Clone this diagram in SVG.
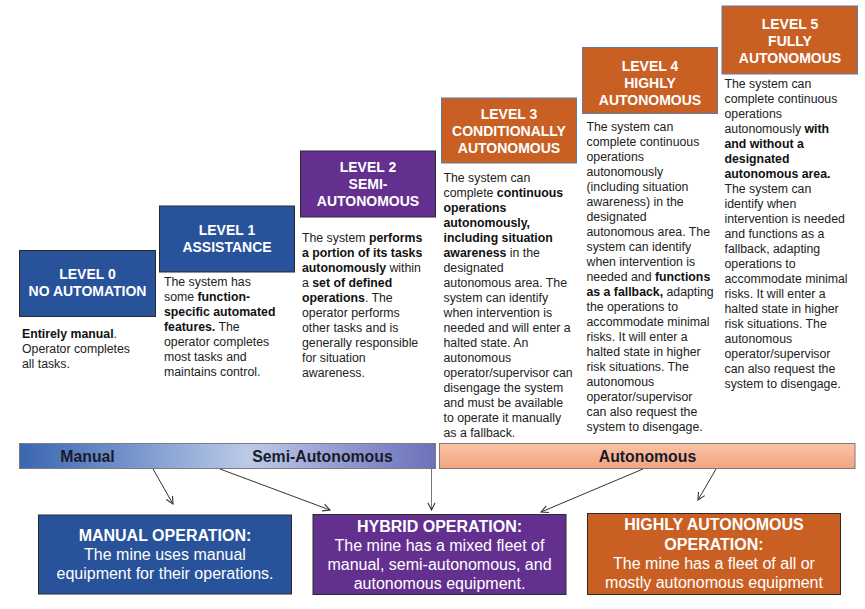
<svg xmlns="http://www.w3.org/2000/svg" width="865" height="609" viewBox="0 0 865 609">
<style>
.hd{fill:#fff;font-family:"Liberation Sans",Arial,sans-serif;font-weight:bold;font-size:14px;text-anchor:middle}
.bd{fill:#222;font-family:"Liberation Sans",Arial,sans-serif;font-size:12.3px}
.bd .b{font-weight:bold;fill:#111}
.blue{fill:#28529A;stroke:#2a2a2a;stroke-width:1}
.purple{fill:#64308F;stroke:#2a2a2a;stroke-width:1}
.orange{fill:#C95F23;stroke:#5B7BA8;stroke-width:1}
.orangeb{fill:#C95F23;stroke:#2a2a2a;stroke-width:1}
.bar{font-family:"Liberation Sans",Arial,sans-serif;font-weight:bold;font-size:15.8px;fill:#1a1a2a;text-anchor:middle}
.bt{fill:#fff;font-family:"Liberation Sans",Arial,sans-serif;font-size:16px;text-anchor:middle}
.bt .b{font-weight:bold}
.conn line{stroke:#333;stroke-width:1;marker-end:url(#ah)}
</style>
<defs>
<linearGradient id="gl" x1="0" y1="0" x2="1" y2="0">
<stop offset="0" stop-color="#3A66B0"/>
<stop offset="0.3" stop-color="#7E9ACF"/>
<stop offset="0.55" stop-color="#BCCBE8"/>
<stop offset="0.8" stop-color="#8D96CE"/>
<stop offset="1" stop-color="#6B72B8"/>
</linearGradient>
<linearGradient id="gr" x1="0" y1="0" x2="0" y2="1">
<stop offset="0" stop-color="#F9C3A6"/>
<stop offset="1" stop-color="#F2A47F"/>
</linearGradient>
<marker id="ah" viewBox="0 0 10 10" refX="9" refY="5" markerWidth="9" markerHeight="9" markerUnits="userSpaceOnUse" orient="auto">
<path d="M1,1 L9,5 L1,9" fill="none" stroke="#333" stroke-width="1.2"/>
</marker>
</defs>
<rect width="865" height="609" fill="#fff"/>

<g id="level0">
<rect class="blue" x="19.5" y="250.5" width="136" height="66"/>
<text class="hd" x="87.5" y="279">LEVEL 0</text>
<text class="hd" x="87.5" y="296">NO AUTOMATION</text>
<text class="bd" x="22"><tspan x="22" y="338"><tspan class="b">Entirely manual</tspan>.</tspan><tspan x="22" y="352.8">Operator completes</tspan><tspan x="22" y="367.6">all tasks.</tspan></text>
</g>

<g id="level1">
<rect class="blue" x="159.5" y="206" width="135" height="66"/>
<text class="hd" x="227" y="235">LEVEL 1</text>
<text class="hd" x="227" y="252">ASSISTANCE</text>
<text class="bd"><tspan x="164" y="286">The system has</tspan><tspan x="164" y="301">some <tspan class="b">function-</tspan></tspan><tspan x="164" y="316" class="b">specific automated</tspan><tspan x="164" y="331"><tspan class="b">features.</tspan> The</tspan><tspan x="164" y="346">operator completes</tspan><tspan x="164" y="361">most tasks and</tspan><tspan x="164" y="376">maintains control.</tspan></text>
</g>

<g id="level2">
<rect class="purple" x="300.5" y="151" width="135" height="66"/>
<text class="hd" x="368" y="172">LEVEL 2</text>
<text class="hd" x="368" y="189">SEMI-</text>
<text class="hd" x="368" y="205.5">AUTONOMOUS</text>
<text class="bd"><tspan x="302" y="241.7">The system <tspan class="b">performs</tspan></tspan><tspan x="302" y="256.7" class="b">a portion of its tasks</tspan><tspan x="302" y="271.7"><tspan class="b">autonomously</tspan> within</tspan><tspan x="302" y="286.7">a <tspan class="b">set of defined</tspan></tspan><tspan x="302" y="301.7"><tspan class="b">operations</tspan>. The</tspan><tspan x="302" y="316.7">operator performs</tspan><tspan x="302" y="331.7">other tasks and is</tspan><tspan x="302" y="346.7">generally responsible</tspan><tspan x="302" y="361.7">for situation</tspan><tspan x="302" y="376.7">awareness.</tspan></text>
</g>

<g id="level3">
<rect class="orange" x="441.5" y="98" width="135" height="65"/>
<text class="hd" x="509" y="119">LEVEL 3</text>
<text class="hd" x="509" y="136">CONDITIONALLY</text>
<text class="hd" x="509" y="152.5">AUTONOMOUS</text>
<text class="bd"><tspan x="443.5" y="182.3">The system can</tspan><tspan x="443.5" y="197.3">complete <tspan class="b">continuous</tspan></tspan><tspan x="443.5" y="212.3" class="b">operations</tspan><tspan x="443.5" y="227.3" class="b">autonomously,</tspan><tspan x="443.5" y="242.3" class="b">including situation</tspan><tspan x="443.5" y="257.3"><tspan class="b">awareness</tspan> in the</tspan><tspan x="443.5" y="272.3">designated</tspan><tspan x="443.5" y="287.3">autonomous area. The</tspan><tspan x="443.5" y="302.3">system can identify</tspan><tspan x="443.5" y="317.3">when intervention is</tspan><tspan x="443.5" y="332.3">needed and will enter a</tspan><tspan x="443.5" y="347.3">halted state. An</tspan><tspan x="443.5" y="362.3">autonomous</tspan><tspan x="443.5" y="377.3">operator/supervisor can</tspan><tspan x="443.5" y="392.3">disengage the system</tspan><tspan x="443.5" y="407.3">and must be available</tspan><tspan x="443.5" y="422.3">to operate it manually</tspan><tspan x="443.5" y="437.3">as a fallback.</tspan></text>
</g>

<g id="level4">
<rect class="orange" x="582.5" y="47.5" width="135" height="66"/>
<text class="hd" x="650" y="71">LEVEL 4</text>
<text class="hd" x="650" y="88">HIGHLY</text>
<text class="hd" x="650" y="104.5">AUTONOMOUS</text>
<text class="bd"><tspan x="586.5" y="131">The system can</tspan><tspan x="586.5" y="146">complete continuous</tspan><tspan x="586.5" y="161">operations</tspan><tspan x="586.5" y="176">autonomously</tspan><tspan x="586.5" y="191">(including situation</tspan><tspan x="586.5" y="206">awareness) in the</tspan><tspan x="586.5" y="221">designated</tspan><tspan x="586.5" y="236">autonomous area. The</tspan><tspan x="586.5" y="251">system can identify</tspan><tspan x="586.5" y="266">when intervention is</tspan><tspan x="586.5" y="281">needed and <tspan class="b">functions</tspan></tspan><tspan x="586.5" y="296"><tspan class="b">as a fallback,</tspan> adapting</tspan><tspan x="586.5" y="311">the operations to</tspan><tspan x="586.5" y="326">accommodate minimal</tspan><tspan x="586.5" y="341">risks. It will enter a</tspan><tspan x="586.5" y="356">halted state in higher</tspan><tspan x="586.5" y="371">risk situations. The</tspan><tspan x="586.5" y="386">autonomous</tspan><tspan x="586.5" y="401">operator/supervisor</tspan><tspan x="586.5" y="416">can also request the</tspan><tspan x="586.5" y="431">system to disengage.</tspan></text>
</g>

<g id="level5">
<rect class="orange" x="722" y="6" width="135.5" height="68"/>
<text class="hd" x="790" y="29">LEVEL 5</text>
<text class="hd" x="790" y="46">FULLY</text>
<text class="hd" x="790" y="62.5">AUTONOMOUS</text>
<text class="bd"><tspan x="724.5" y="87.5">The system can</tspan><tspan x="724.5" y="102.5">complete continuous</tspan><tspan x="724.5" y="117.5">operations</tspan><tspan x="724.5" y="132.5">autonomously <tspan class="b">with</tspan></tspan><tspan x="724.5" y="147.5" class="b">and without a</tspan><tspan x="724.5" y="162.5" class="b">designated</tspan><tspan x="724.5" y="177.5" class="b">autonomous area.</tspan><tspan x="724.5" y="192.5">The system can</tspan><tspan x="724.5" y="207.5">identify when</tspan><tspan x="724.5" y="222.5">intervention is needed</tspan><tspan x="724.5" y="237.5">and functions as a</tspan><tspan x="724.5" y="252.5">fallback, adapting</tspan><tspan x="724.5" y="267.5">operations to</tspan><tspan x="724.5" y="282.5">accommodate minimal</tspan><tspan x="724.5" y="297.5">risks. It will enter a</tspan><tspan x="724.5" y="312.5">halted state in higher</tspan><tspan x="724.5" y="327.5">risk situations. The</tspan><tspan x="724.5" y="342.5">autonomous</tspan><tspan x="724.5" y="357.5">operator/supervisor</tspan><tspan x="724.5" y="372.5">can also request the</tspan><tspan x="724.5" y="387.5">system to disengage.</tspan></text>
</g>

<g id="bar-manual">
<rect x="19.5" y="443.5" width="416" height="25" fill="url(#gl)" stroke="#7a7a7a" stroke-width="1"/>
<text class="bar" x="87.5" y="461.5">Manual</text>
<text class="bar" x="322.5" y="461.5">Semi-Autonomous</text>
</g>
<g id="bar-auto">
<rect x="439.5" y="443.5" width="415.5" height="25" fill="url(#gr)" stroke="#7a7a7a" stroke-width="1"/>
<text class="bar" x="647.5" y="461.5">Autonomous</text>
</g>

<g id="connectors" class="conn">
<line x1="153" y1="469" x2="173" y2="504"/>
<line x1="220" y1="469" x2="330" y2="510"/>
<line x1="431.5" y1="469" x2="431.5" y2="510" style="stroke:#777"/>
<line x1="643" y1="469" x2="541" y2="512"/>
<line x1="716" y1="469" x2="698" y2="500"/>
</g>

<g id="manual-operation">
<rect class="blue" x="38.5" y="515" width="253" height="79"/>
<text class="bt"><tspan x="165" y="541.4" class="b">MANUAL OPERATION:</tspan><tspan x="165" y="560">The mine uses manual</tspan><tspan x="165" y="579">equipment for their operations.</tspan></text>
</g>
<g id="hybrid-operation">
<rect class="purple" x="313" y="514.5" width="253" height="80"/>
<text class="bt"><tspan x="439.5" y="531.7" class="b">HYBRID OPERATION:</tspan><tspan x="439.5" y="550.7">The mine has a mixed fleet of</tspan><tspan x="439.5" y="570">manual, semi-autonomous, and</tspan><tspan x="439.5" y="588.7">autonomous equipment.</tspan></text>
</g>
<g id="highly-autonomous-operation">
<rect class="orangeb" x="587.5" y="513.5" width="253" height="81"/>
<text class="bt"><tspan x="714" y="530" class="b">HIGHLY AUTONOMOUS</tspan><tspan x="714" y="549.5" class="b">OPERATION:</tspan><tspan x="714" y="569">The mine has a fleet of all or</tspan><tspan x="714" y="587.5">mostly autonomous equipment</tspan></text>
</g>
</svg>
